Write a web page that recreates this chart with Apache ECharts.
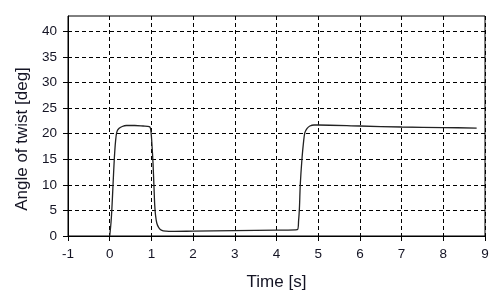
<!DOCTYPE html>
<html><head><meta charset="utf-8">
<script src="https://cdn.jsdelivr.net/npm/echarts@6/dist/echarts.min.js"></script>
<style>html,body{margin:0;padding:0;background:#fff}#c{width:504px;height:292px}</style>
</head><body><div id="c"></div>
<script>
const times = [0,0.03,0.05,0.08,0.11,0.14,0.17,0.22,0.3,0.4,0.6,0.8,0.95,0.98,1.0,1.02,1.04,1.06,1.08,1.1,1.13,1.18,1.25,1.35,1.5,2.0,3.0,4.0,4.5,4.53,4.55,4.57,4.61,4.65,4.68,4.73,4.8,4.9,5.0,6.0,7.0,8.0,8.8];
const angles = [0,2.5,5,10,15,18.5,20.3,21.0,21.4,21.6,21.6,21.5,21.4,21.0,19.5,17,14,10,6,4,2.5,1.6,1.1,0.95,0.9,0.95,1.05,1.15,1.25,3,5.5,10,15,18.5,20.2,21.0,21.5,21.7,21.7,21.5,21.3,21.2,21.1];
const xTicks = [-1,0,1,2,3,4,5,6,7,8,9];
const yTicks = [0,5,10,15,20,25,30,35,40];
const xName = 'Time [s]';
const yName = 'Angle of twist [deg]';

const chart = echarts.init(document.getElementById('c'), null, {renderer:'canvas'});
const font = 'Liberation Sans, Arial, sans-serif';
const txt = '#141424';
chart.setOption({
  animation:false,
  backgroundColor:'#fff',
  grid:{left:68,right:19,top:16,bottom:56,outerBoundsMode:'none',containLabel:false,show:true,borderColor:'#000',borderWidth:1,backgroundColor:'transparent'},
  xAxis:{type:'value',min:xTicks[0],max:xTicks[xTicks.length-1],interval:1,
    name:xName,nameLocation:'middle',nameGap:38,
    nameTextStyle:{fontFamily:font,fontSize:17,color:txt},
    axisLine:{show:true,onZero:false,lineStyle:{color:'#000',width:1}},
    axisTick:{show:true,length:5,lineStyle:{color:'#000'}},
    axisLabel:{fontFamily:font,fontSize:13.5,color:txt,margin:11},
    splitLine:{show:true,lineStyle:{color:'#000',type:[4,3],width:1}}},
  yAxis:{type:'value',min:0,max:43,interval:5,
    name:yName,nameLocation:'middle',nameGap:32,
    nameTextStyle:{fontFamily:font,fontSize:17,color:txt,padding:[0,26,0,0]},
    axisLine:{show:true,onZero:false,lineStyle:{color:'#000',width:1}},
    axisTick:{show:true,length:5,customValues:yTicks,lineStyle:{color:'#000'}},
    axisLabel:{fontFamily:font,fontSize:13.5,color:txt,margin:11,customValues:yTicks},
    splitLine:{show:true,lineStyle:{color:'#000',type:[4,3],width:1}}},
  series:[{type:'line',data:times.map((t,i)=>[t,angles[i]]),showSymbol:false,smooth:0.3,
    lineStyle:{color:'#222',width:1.3}}]
});
</script></body></html>
